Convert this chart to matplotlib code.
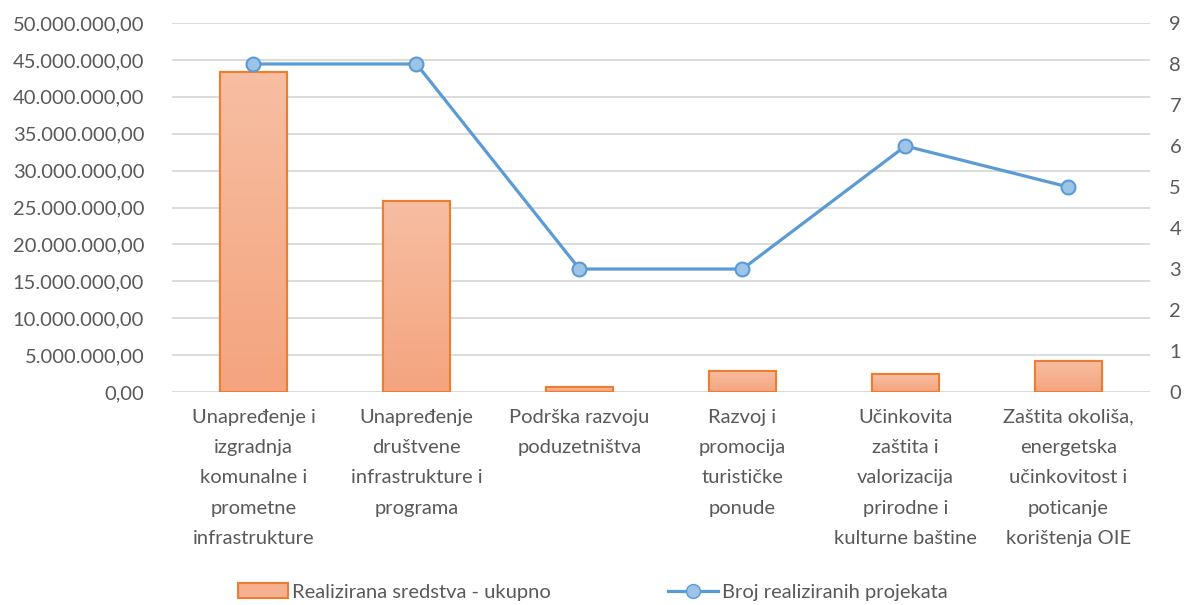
import matplotlib.pyplot as plt
import numpy as np
from matplotlib.ticker import FuncFormatter, MultipleLocator
from matplotlib.lines import Line2D
from matplotlib.patches import Patch, Rectangle
from matplotlib.colors import LinearSegmentedColormap

# podaci
kategorije = [
    "Unapređenje i\nizgradnja\nkomunalne i\nprometne\ninfrastrukture",
    "Unapređenje\ndruštvene\ninfrastrukture i\nprograma",
    "Podrška razvoju\npoduzetništva",
    "Razvoj i\npromocija\nturističke\nponude",
    "Učinkovita\nzaštita i\nvalorizacija\nprirodne i\nkulturne baštine",
    "Zaštita okoliša,\nenergetska\nučinkovitost i\npoticanje\nkorištenja OIE",
]
sredstva = [43300000, 25900000, 680000, 2900000, 2400000, 4250000]
broj_projekata = [8, 8, 3, 3, 6, 5]

naziv_stupci = "Realizirana sredstva - ukupno"
naziv_linija = "Broj realiziranih projekata"

plt.rcParams['font.family'] = ['Lato', 'DejaVu Sans']
siva = '#595959'
narancasta = '#ED7D31'
plava = '#5B9BD5'
fs = 14.5

fig = plt.figure(figsize=(11.86, 6.05), dpi=100)
ax = fig.add_axes([0.145, 0.352, 0.8246, 0.61])
ax2 = ax.twinx()

x = np.arange(len(kategorije))
stupci = ax.bar(x, sredstva, width=0.41, color='#F5B090', edgecolor=narancasta,
                linewidth=1.5, zorder=2)

# gradijent unutar stupaca
grad = np.linspace(0, 1, 256).reshape(-1, 1)
cmap = LinearSegmentedColormap.from_list('g', ['#F4A47E', '#F7BEA2'])
for b in stupci:
    im = ax.imshow(grad, cmap=cmap, aspect='auto', origin='lower',
                   extent=[b.get_x(), b.get_x() + b.get_width(), 0, b.get_height()],
                   zorder=2.5)
    im.set_clip_path(b)
    ax.add_patch(Rectangle((b.get_x(), 0), b.get_width(), b.get_height(),
                           fill=False, edgecolor=narancasta, linewidth=1.5, zorder=3))

ax.set_xlim(-0.5, len(kategorije) - 0.5)
ax.set_ylim(0, 50000000)
ax.yaxis.set_major_locator(MultipleLocator(5000000))
ax.yaxis.set_major_formatter(FuncFormatter(
    lambda v, p: f"{v:,.2f}".replace(',', 'X').replace('.', ',').replace('X', '.')))
ax.grid(axis='y', color='#D9D9D9', linewidth=1.3, zorder=0)
ax.set_axisbelow(True)

ax2.plot(x, broj_projekata, color=plava, linewidth=2.3, marker='o', markersize=10,
         markerfacecolor='#9DC3E6', markeredgecolor=plava, markeredgewidth=1.5, zorder=5)
ax2.set_ylim(0, 9)
ax2.yaxis.set_major_locator(MultipleLocator(1))

for a in (ax, ax2):
    for s in a.spines.values():
        s.set_visible(False)
    a.tick_params(length=0, labelsize=fs, colors=siva)
ax.tick_params(axis='y', pad=20)
ax2.tick_params(axis='y', pad=14)
ax.set_xticks(x)
ax.set_xticklabels(kategorije, fontsize=fs, color=siva)
for t in ax.get_xticklabels():
    t.set_linespacing(1.95)
ax.tick_params(axis='x', pad=12)

rucke = [Patch(facecolor='#F5B090', edgecolor=narancasta, linewidth=1.5),
         Line2D([], [], color=plava, linewidth=2.3, marker='o', markersize=10,
                markerfacecolor='#9DC3E6', markeredgecolor=plava)]
fig.legend(rucke, [naziv_stupci, naziv_linija], loc='center',
           bbox_to_anchor=(0.5, 1 - 592 / 605), ncol=2, frameon=False,
           fontsize=fs, labelcolor=siva, handlelength=2.5, handletextpad=0.2,
           columnspacing=5.8)

fig.savefig('out.png', dpi=100)
